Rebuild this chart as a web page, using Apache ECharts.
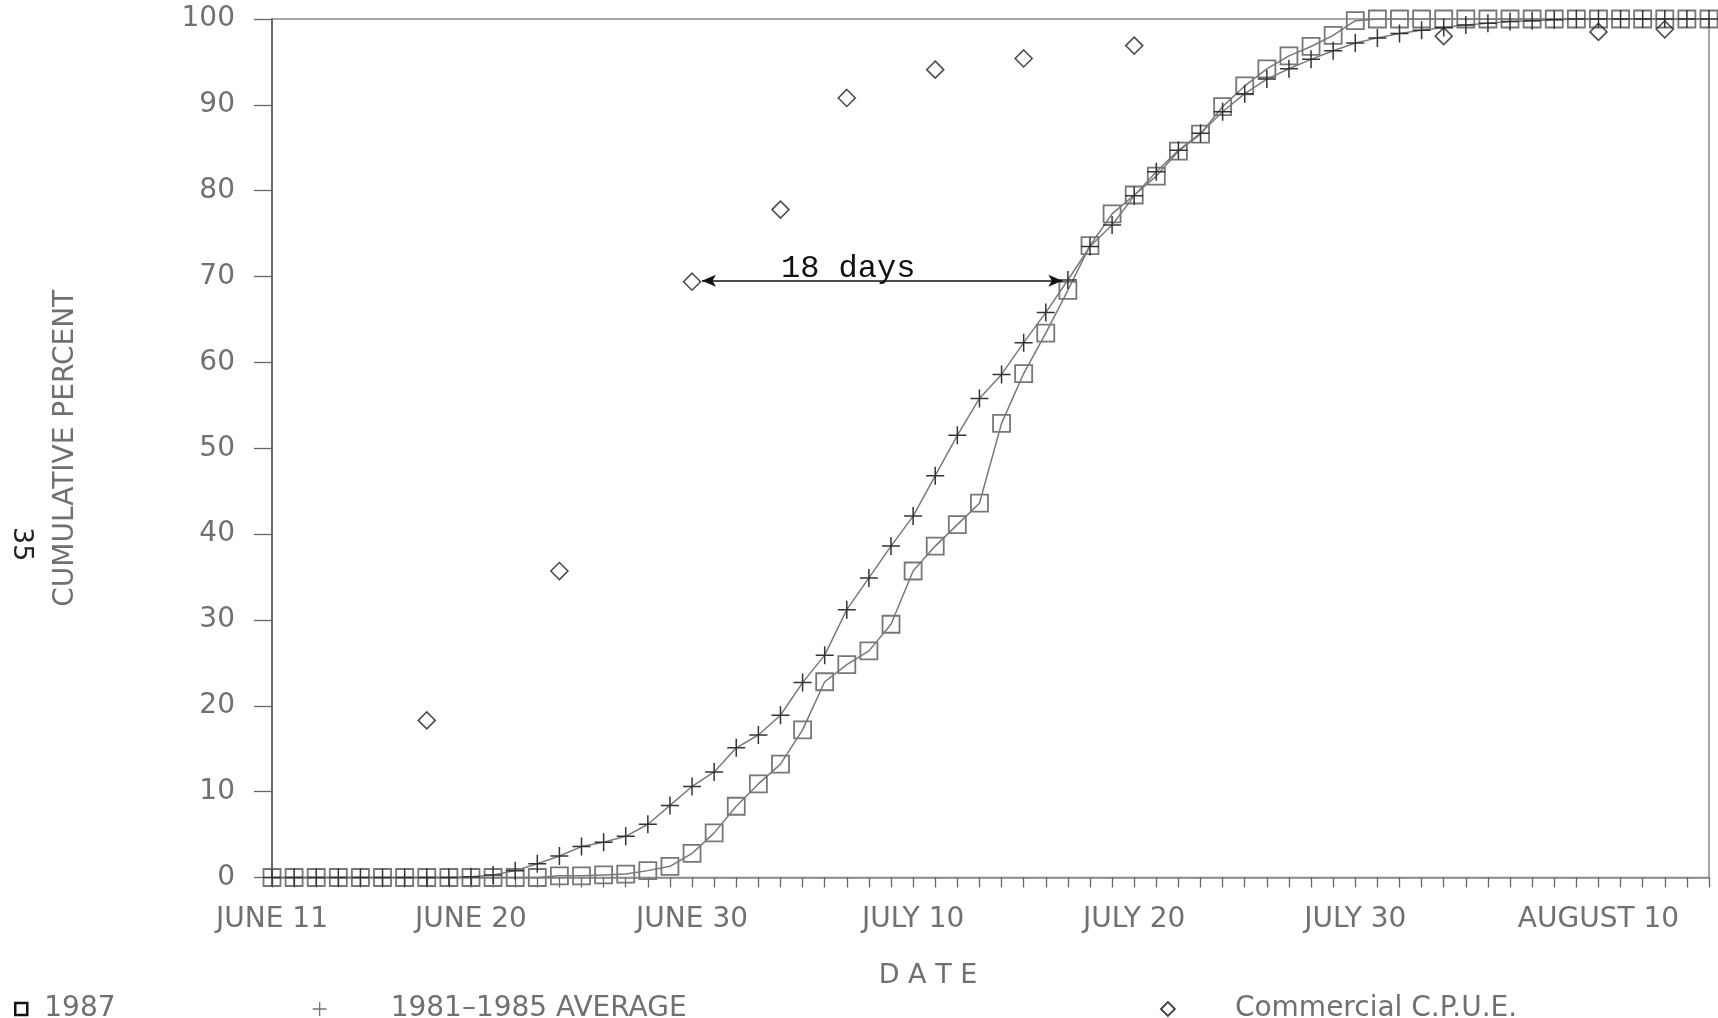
<!DOCTYPE html>
<html>
<head>
<meta charset="utf-8">
<script src="https://cdn.jsdelivr.net/npm/echarts@6/dist/echarts.min.js"></script>
<style>
html,body{margin:0;padding:0;background:#fff;}
#chart{width:1718px;height:1018px;}
</style>
</head>
<body>
<div id="chart"></div>
<script>
// ---- data ----
const months = [['JUNE', 11, 30], ['JULY', 1, 31], ['AUGUST', 1, 15]];
const dates = [];
months.forEach(function (m) { for (let d = m[1]; d <= m[2]; d++) dates.push(m[0] + ' ' + d); });

const tickLabels = ['JUNE 11', 'JUNE 20', 'JUNE 30', 'JULY 10', 'JULY 20', 'JULY 30', 'AUGUST 10'];
const yTicks = [0, 10, 20, 30, 40, 50, 60, 70, 80, 90, 100];

const values1987 = [
  0, 0, 0, 0, 0, 0, 0, 0, 0, 0, 0, 0, 0,
  0.2, 0.2, 0.3, 0.4, 0.8, 1.3, 2.8, 5.2, 8.3, 10.9, 13.2, 17.2, 22.8, 24.8,
  26.4, 29.5, 35.7, 38.6, 41.1, 43.6, 52.9, 58.7, 63.4, 68.4, 73.6, 77.3,
  79.5, 81.7, 84.6, 86.6, 89.8, 92.2, 94.2, 95.7, 96.8, 98.1, 99.8,
  100, 100, 100, 100, 100, 100, 100, 100, 100, 100, 100, 100, 100, 100, 100, 100
];
const valuesAverage = [
  0, 0, 0, 0, 0, 0, 0, 0, 0,
  0.1, 0.3, 0.8, 1.6, 2.5, 3.6, 4.1, 4.8, 6.2, 8.4, 10.6, 12.3, 15.1, 16.6,
  18.9, 22.7, 25.9, 31.2, 34.9, 38.6, 42.1, 46.8, 51.5, 55.8, 58.6, 62.3,
  65.8, 69.6, 73.5, 76.0, 79.4, 82.2, 84.7, 86.7, 89.2, 91.3, 93.0, 94.2,
  95.3, 96.3, 97.2, 97.8, 98.3, 98.7, 99.0, 99.3, 99.5, 99.7, 99.8, 99.9,
  100, 100, 100, 100, 100, 100, 100
];
const cpueDates = ['JUNE 18', 'JUNE 24', 'JUNE 30', 'JULY 4', 'JULY 7', 'JULY 11', 'JULY 15', 'JULY 20', 'AUGUST 3', 'AUGUST 10', 'AUGUST 13'];
const cpueValues = [18.3, 35.7, 69.4, 77.8, 90.8, 94.1, 95.4, 96.9, 98.0, 98.5, 98.8];

const arrowStart = 19.45;   // day index (just right of JUNE 30 diamond)
const arrowEnd = 35.75;     // day index (at the average curve)
const arrowLevel = 69.5;
const arrowLabel = '18 days';

const seriesNames = ['1987', '1981\u20131985 AVERAGE', 'Commercial C.P.U.E.'];

// ---- build ----
const data1987 = values1987.map(function (v, i) { return [i, v]; });
const dataAvg = valuesAverage.map(function (v, i) { return [i, v]; });
const dataCpue = cpueDates.map(function (d, i) { return [dates.indexOf(d), cpueValues[i]]; });

const SQUARE = 'path://M0,0H10V10H0Z';
const PLUS = 'path://M5,0V10M0,5H10';
const DIAMOND = 'path://M5,0L10,5L5,10L0,5Z';
const textGray = '#707070';
const font = 'DejaVu Sans';
const fs = 28;

const chart = echarts.init(document.getElementById('chart'), null, { renderer: 'canvas' });
chart.setOption({
  animation: false,
  backgroundColor: '#fff',
  grid: { left: 272, right: 9, top: 19, bottom: 140.5, show: true, borderColor: '#8a8a8a', borderWidth: 1.5, backgroundColor: 'transparent' },
  xAxis: {
    type: 'value', min: 0, max: dates.length - 1, interval: 1,
    axisLine: { show: true, lineStyle: { color: '#8a8a8a', width: 1.5 } },
    axisTick: { show: true, inside: false, length: 10, lineStyle: { color: '#666', width: 1.3 } },
    splitLine: { show: false },
    axisLabel: {
      margin: 28, fontFamily: font, fontSize: fs, color: textGray,
      showMinLabel: true, showMaxLabel: true, hideOverlap: false,
      formatter: function (v) { const d = dates[Math.round(v)]; return tickLabels.indexOf(d) >= 0 ? d : ''; }
    }
  },
  yAxis: {
    type: 'value', min: 0, max: 100, interval: 10,
    name: 'CUMULATIVE PERCENT', nameLocation: 'middle', nameGap: 192, nameRotate: 90,
    nameTextStyle: { fontFamily: font, fontSize: fs, color: textGray },
    axisLine: { show: true, lineStyle: { color: '#555', width: 1.5 } },
    axisTick: { show: true, inside: false, length: 18, lineStyle: { color: '#666', width: 1.3 } },
    splitLine: { show: false },
    axisLabel: {
      margin: 37, fontFamily: font, fontSize: fs, color: textGray,
      formatter: function (v) { return yTicks.indexOf(v) >= 0 ? String(v) : ''; }
    }
  },
  legend: [
    {
      left: 9, top: 990, itemWidth: 12, itemHeight: 12, selectedMode: false,
      data: [{ name: seriesNames[0], icon: SQUARE, itemStyle: { color: 'transparent', borderColor: '#111', borderWidth: 2.5 } }],
      textStyle: { fontFamily: font, fontSize: fs, color: textGray, padding: [0, 0, 0, 12] }
    },
    {
      left: 307, top: 990, itemWidth: 14, itemHeight: 14, selectedMode: false,
      data: [{ name: seriesNames[1], icon: PLUS, itemStyle: { color: 'transparent', borderColor: '#777', borderWidth: 1.3 } }],
      textStyle: { fontFamily: font, fontSize: fs, color: textGray, padding: [0, 0, 0, 59] }
    },
    {
      left: 1155, top: 990, itemWidth: 14, itemHeight: 14, selectedMode: false,
      data: [{ name: seriesNames[2], icon: DIAMOND, itemStyle: { color: 'transparent', borderColor: '#111', borderWidth: 1.8 } }],
      textStyle: { fontFamily: font, fontSize: fs, color: textGray, padding: [0, 0, 0, 55] }
    }
  ],
  graphic: [
    { type: 'text', left: 8, top: 527, rotation: -Math.PI / 2, style: { text: '35', fontFamily: font, fontSize: 27, fill: '#222' } },
    { type: 'text', x: 928, y: 976, style: { text: 'D A T E', fontFamily: font, fontSize: 27, fill: textGray, align: 'center', verticalAlign: 'middle' } }
  ],
  series: [
    {
      name: seriesNames[0], type: 'line', data: data1987,
      symbol: SQUARE, symbolSize: 17, showAllSymbol: true,
      lineStyle: { color: '#777', width: 1.5 },
      itemStyle: { color: 'transparent', borderColor: '#777', borderWidth: 1.8 },
      emphasis: { disabled: true }, z: 2
    },
    {
      name: seriesNames[1], type: 'line', data: dataAvg,
      symbol: PLUS, symbolSize: 18, showAllSymbol: true,
      lineStyle: { color: '#7a7a7a', width: 1.5 },
      itemStyle: { color: 'transparent', borderColor: '#333', borderWidth: 1.5 },
      emphasis: { disabled: true }, z: 3
    },
    {
      name: seriesNames[2], type: 'scatter', data: dataCpue,
      symbol: DIAMOND, symbolSize: 17,
      itemStyle: { color: 'transparent', borderColor: '#222', borderWidth: 1.6 },
      emphasis: { disabled: true }, z: 4,
      markLine: {
        silent: true, symbol: ['arrow', 'arrow'], symbolSize: [9, 14], precision: 2,
        lineStyle: { color: '#111', width: 1.6, type: 'solid' },
        label: {
          show: true, position: 'insideMiddleTop', distance: -4, offset: [-34, 0],
          formatter: arrowLabel, fontFamily: 'Liberation Mono', fontSize: 32, color: '#111'
        },
        data: [[{ coord: [arrowStart, arrowLevel] }, { coord: [arrowEnd, arrowLevel] }]]
      }
    }
  ]
});
</script>
</body>
</html>
